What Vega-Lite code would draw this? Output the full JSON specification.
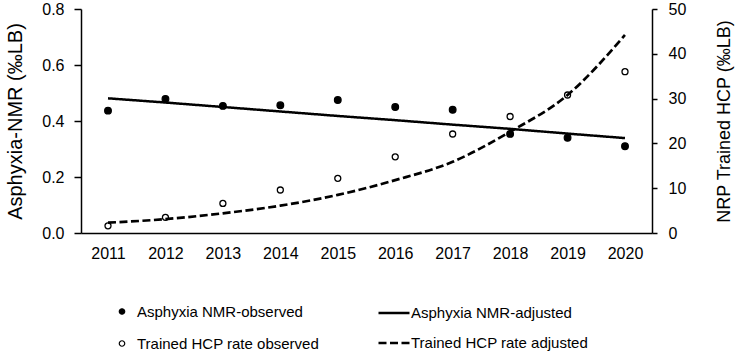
{
  "$schema": "https://vega.github.io/schema/vega-lite/v6.json",
  "width": 571,
  "height": 224,
  "autosize": "none",
  "padding": {"left": 81, "top": 9, "right": 83, "bottom": 122},
  "background": "white",
  "config": {
    "view": {"stroke": null},
    "font": "Liberation Sans",
    "axis": {
      "labelFont": "Liberation Sans",
      "titleFont": "Liberation Sans",
      "labelFontSize": 16,
      "titleFontSize": 18,
      "titleFontWeight": "normal",
      "labelColor": "black",
      "titleColor": "black",
      "domainColor": "black",
      "tickColor": "black",
      "domainWidth": 1.5,
      "tickWidth": 1.5,
      "grid": false
    },
    "legend": {
      "padding": 0,
      "labelFont": "Liberation Sans",
      "labelFontSize": 15,
      "labelColor": "black",
      "labelLimit": 300
    }
  },
  "data": {
    "values": [
      {"year": "2011", "series": "Asphyxia NMR-observed", "value": 0.437},
      {"year": "2012", "series": "Asphyxia NMR-observed", "value": 0.479},
      {"year": "2013", "series": "Asphyxia NMR-observed", "value": 0.454},
      {"year": "2014", "series": "Asphyxia NMR-observed", "value": 0.456},
      {"year": "2015", "series": "Asphyxia NMR-observed", "value": 0.475},
      {"year": "2016", "series": "Asphyxia NMR-observed", "value": 0.45},
      {"year": "2017", "series": "Asphyxia NMR-observed", "value": 0.44},
      {"year": "2018", "series": "Asphyxia NMR-observed", "value": 0.354},
      {"year": "2019", "series": "Asphyxia NMR-observed", "value": 0.34},
      {"year": "2020", "series": "Asphyxia NMR-observed", "value": 0.31},
      {"year": "2011", "series": "Asphyxia NMR-adjusted", "value": 0.481},
      {"year": "2012", "series": "Asphyxia NMR-adjusted", "value": 0.466},
      {"year": "2013", "series": "Asphyxia NMR-adjusted", "value": 0.45},
      {"year": "2014", "series": "Asphyxia NMR-adjusted", "value": 0.434},
      {"year": "2015", "series": "Asphyxia NMR-adjusted", "value": 0.418},
      {"year": "2016", "series": "Asphyxia NMR-adjusted", "value": 0.403},
      {"year": "2017", "series": "Asphyxia NMR-adjusted", "value": 0.387},
      {"year": "2018", "series": "Asphyxia NMR-adjusted", "value": 0.372},
      {"year": "2019", "series": "Asphyxia NMR-adjusted", "value": 0.355},
      {"year": "2020", "series": "Asphyxia NMR-adjusted", "value": 0.339},
      {"year": "2011", "series": "Trained HCP rate observed", "value": 1.6},
      {"year": "2012", "series": "Trained HCP rate observed", "value": 3.5},
      {"year": "2013", "series": "Trained HCP rate observed", "value": 6.6},
      {"year": "2014", "series": "Trained HCP rate observed", "value": 9.6},
      {"year": "2015", "series": "Trained HCP rate observed", "value": 12.2},
      {"year": "2016", "series": "Trained HCP rate observed", "value": 17.0},
      {"year": "2017", "series": "Trained HCP rate observed", "value": 22.1},
      {"year": "2018", "series": "Trained HCP rate observed", "value": 26.0},
      {"year": "2019", "series": "Trained HCP rate observed", "value": 30.8},
      {"year": "2020", "series": "Trained HCP rate observed", "value": 36.0},
      {"year": "2011", "series": "Trained HCP rate adjusted", "value": 2.3},
      {"year": "2012", "series": "Trained HCP rate adjusted", "value": 3.1},
      {"year": "2013", "series": "Trained HCP rate adjusted", "value": 4.4},
      {"year": "2014", "series": "Trained HCP rate adjusted", "value": 6.1},
      {"year": "2015", "series": "Trained HCP rate adjusted", "value": 8.5},
      {"year": "2016", "series": "Trained HCP rate adjusted", "value": 11.8},
      {"year": "2017", "series": "Trained HCP rate adjusted", "value": 15.9},
      {"year": "2018", "series": "Trained HCP rate adjusted", "value": 22.6},
      {"year": "2019", "series": "Trained HCP rate adjusted", "value": 30.8},
      {"year": "2020", "series": "Trained HCP rate adjusted", "value": 44.2}
    ]
  },
  "encoding": {
    "x": {
      "field": "year",
      "type": "ordinal",
      "scale": {"type": "point", "padding": 0.47},
      "axis": {"title": null, "labelAngle": 0, "ticks": false, "labelPadding": 12}
    }
  },
  "layer": [
    {
      "encoding": {
        "y": {
          "field": "value",
          "type": "quantitative",
          "scale": {"domain": [0, 0.8], "nice": false, "zero": true},
          "axis": {
            "title": "Asphyxia-NMR (‰LB)",
            "titleFontSize": 20,
            "values": [0, 0.2, 0.4, 0.6, 0.8],
            "format": ".1f",
            "tickSize": 7,
            "labelPadding": 10,
            "titlePadding": 16
          }
        }
      },
      "layer": [
        {
          "transform": [{"filter": "datum.series == 'Asphyxia NMR-adjusted'"}],
          "mark": {"type": "line", "strokeWidth": 2.5, "color": "black"},
          "encoding": {
            "strokeDash": {
              "field": "series",
              "type": "nominal",
              "scale": {
                "domain": ["Asphyxia NMR-adjusted", "Trained HCP rate adjusted"],
                "range": [[1, 0], [8, 3.5]]
              },
              "legend": {
                "title": null,
                "orient": "none",
                "legendX": 296,
                "legendY": 287,
                "direction": "vertical",
                "rowPadding": 5,
                "labelOffset": 0,
                "symbolType": "stroke",
                "symbolSize": 961,
                "symbolStrokeWidth": 2.5,
                "symbolStrokeColor": "black"
              }
            }
          }
        },
        {
          "transform": [{"filter": "datum.series == 'Asphyxia NMR-observed'"}],
          "mark": {"type": "point", "filled": true, "size": 45, "opacity": 1, "shape": "circle", "stroke": "black", "strokeWidth": 1.2},
          "encoding": {
            "fill": {
              "field": "series",
              "type": "nominal",
              "scale": {
                "domain": ["Asphyxia NMR-observed", "Trained HCP rate observed"],
                "range": ["black", "transparent"]
              },
              "legend": {
                "title": null,
                "orient": "none",
                "legendX": 33.5,
                "legendY": 295,
                "direction": "vertical",
                "rowPadding": 16,
                "labelOffset": 7.5,
                "symbolType": "circle",
                "symbolSize": 30,
                "symbolStrokeWidth": 1.2,
                "symbolStrokeColor": "black",
                "symbolOpacity": 1
              }
            }
          }
        }
      ]
    },
    {
      "encoding": {
        "y": {
          "field": "value",
          "type": "quantitative",
          "scale": {"domain": [0, 50], "nice": false},
          "axis": {
            "orient": "right",
            "title": "NRP Trained HCP (‰LB)",
            "values": [0, 10, 20, 30, 40, 50],
            "tickSize": 5,
            "labelPadding": 11,
            "titleAngle": 270,
            "titlePadding": 48
          }
        }
      },
      "layer": [
        {
          "transform": [{"filter": "datum.series == 'Trained HCP rate adjusted'"}],
          "mark": {"type": "line", "strokeWidth": 2.7, "color": "black", "interpolate": "monotone"},
          "encoding": {
            "strokeDash": {"field": "series", "type": "nominal"}
          }
        },
        {
          "transform": [{"filter": "datum.series == 'Trained HCP rate observed'"}],
          "mark": {"type": "point", "filled": true, "size": 36, "strokeWidth": 1.3, "opacity": 1, "shape": "circle", "stroke": "black"},
          "encoding": {
            "fill": {"field": "series", "type": "nominal"}
          }
        }
      ]
    }
  ],
  "resolve": {"scale": {"y": "independent"}}
}
